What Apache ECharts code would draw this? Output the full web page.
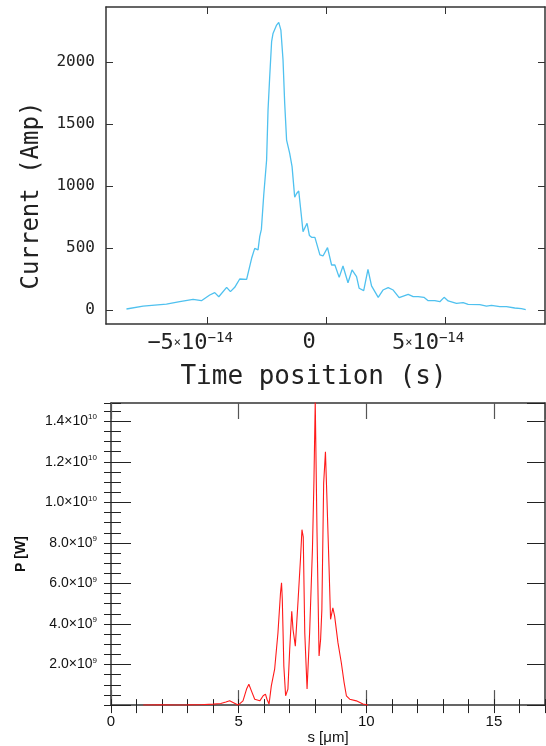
<!DOCTYPE html>
<html>
<head>
<meta charset="utf-8">
<script src="https://cdn.jsdelivr.net/npm/echarts@6/dist/echarts.min.js"></script>
<style>
html,body{margin:0;padding:0;background:#fff;}
#c{width:546px;height:746px;}
</style>
</head>
<body>
<div id="c"></div>
<script>
// ---- Top panel: current profile ----
const timeS = [-8.39e-14,-7.69e-14,-6.71e-14,-6.15e-14,-5.59e-14,-5.24e-14,-4.89e-14,-4.68e-14,-4.51e-14,-4.18e-14,
  -4.02e-14,-3.84e-14,-3.63e-14,-3.34e-14,-3.13e-14,-3.00e-14,-2.86e-14,-2.79e-14,-2.72e-14,-2.62e-14,
  -2.50e-14,-2.44e-14,-2.37e-14,-2.29e-14,-2.23e-14,-2.08e-14,-1.99e-14,-1.90e-14,-1.81e-14,-1.74e-14,
  -1.66e-14,-1.53e-14,-1.43e-14,-1.32e-14,-1.24e-14,-1.15e-14,-1.05e-14,-0.97e-14,-0.80e-14,-0.70e-14,
  -0.61e-14,-0.47e-14,-0.26e-14,-0.13e-14,0.06e-14,0.23e-14,0.37e-14,0.55e-14,0.71e-14,0.92e-14,
  1.09e-14,1.28e-14,1.39e-14,1.58e-14,1.76e-14,1.91e-14,2.19e-14,2.39e-14,2.61e-14,2.82e-14,
  3.07e-14,3.45e-14,3.66e-14,3.87e-14,4.11e-14,4.29e-14,4.57e-14,4.78e-14,4.96e-14,5.13e-14,
  5.48e-14,5.76e-14,5.97e-14,6.46e-14,6.74e-14,6.95e-14,7.30e-14,7.58e-14,7.93e-14,8.21e-14,8.39e-14];
const currentAmp = [8,32,48,67,86,75,121,140,107,183,
  148,183,250,247,417,497,485,591,650,930,
  1210,1613,1882,2164,2231,2298,2320,2258,2016,1667,
  1371,1264,1156,910,940,960,780,632,699,600,
  586,586,444,436,503,363,363,263,355,220,
  323,269,175,156,328,194,102,161,180,161,
  99,126,108,108,102,75,75,67,102,73,
  54,59,46,43,32,38,27,27,16,11,2];
const timeTicks = [-5e-14, 0, 5e-14];
const currentTicks = [0, 500, 1000, 1500, 2000];

// ---- Bottom panel: power vs s ----
const sUm = [1.26,2.0,2.5,3.0,3.5,4.0,4.3,4.5,4.65,4.78,4.98,5.17,5.31,5.40,5.50,5.63,5.83,5.96,6.05,6.11,
  6.19,6.28,6.41,6.54,6.64,6.68,6.71,6.77,6.84,6.93,7.00,7.08,7.13,7.22,7.33,7.42,7.48,7.53,7.59,7.68,
  7.78,7.89,7.95,8.00,8.07,8.15,8.21,8.26,8.33,8.40,8.46,8.54,8.60,8.69,8.76,8.89,9.02,9.13,9.22,9.35,
  9.61,9.87,10.06];
const powerW = [0.005e9,0.01e9,0.005e9,0.01e9,0.02e9,0.05e9,0.08e9,0.15e9,0.21e9,0.13e9,0.0,0.21e9,0.79e9,1.03e9,0.70e9,0.29e9,0.21e9,0.46e9,0.54e9,0.29e9,
  0.05e9,0.95e9,1.77e9,3.57e9,5.54e9,6.03e9,5.21e9,1.93e9,0.46e9,0.79e9,2.75e9,4.63e9,3.73e9,2.91e9,5.21e9,7.17e9,8.65e9,8.3e9,3.57e9,0.79e9,
  3.57e9,7.67e9,11.1e9,15.0e9,8.49e9,2.42e9,3.24e9,4.72e9,10.94e9,12.5e9,10.12e9,6.85e9,4.23e9,4.80e9,4.39e9,3.08e9,2.10e9,1.12e9,0.46e9,0.29e9,
  0.21e9,0.05e9,0];

const mono = 'DejaVu Sans Mono';
const sans = 'Liberation Sans';
const lineCol = '#333';

function timeLabel(v){
  const m = Math.round(v*1e14);
  if (m === 0) return '{m|0}';
  return '{m|' + (m<0?'\u2212':'') + Math.abs(m) + '}{x|\u00d7}{m|10}{e|\u221214}';
}
function powLabel(v){
  if (v === 0) return '';
  const e = Math.floor(Math.log10(v)+1e-9);
  const m = (v/Math.pow(10,e)).toFixed(1);
  return '{m|' + m + '\u00d710}{e|' + e + '}';
}

const topXBase = {gridIndex:0, type:'value', min:-9.25e-14, max:9.2e-14, splitLine:{show:false},
  axisLine:{show:true, onZero:false, lineStyle:{color:lineCol, width:1.5}}};
const topYBase = {gridIndex:0, type:'value', min:-113, max:2444, splitLine:{show:false},
  axisLine:{show:true, onZero:false, lineStyle:{color:lineCol, width:1.5}}};
const botXBase = {gridIndex:1, type:'value', min:0, max:17, splitLine:{show:false},
  axisLine:{show:true, onZero:false, lineStyle:{color:lineCol, width:1.5}}};
const botYBase = {gridIndex:1, type:'value', min:0, max:1.49e10, splitLine:{show:false},
  axisLine:{show:true, onZero:false, lineStyle:{color:lineCol, width:1.5}}};

const option = {
  animation:false,
  backgroundColor:'#fff',
  grid:[
    {left:106, top:7, width:439, height:317},
    {left:111, top:403, width:434, height:303}
  ],
  xAxis:[
    Object.assign({}, topXBase, {position:'bottom',
      axisTick:{show:true, inside:true, length:7, customValues:timeTicks, lineStyle:{color:lineCol}},
      axisLabel:{show:true, customValues:timeTicks, margin:7, formatter:timeLabel, padding:[0,34,0,0],
        rich:{m:{fontFamily:mono, fontSize:22, color:'#222'},
              x:{fontFamily:mono, fontSize:12, color:'#222'},
              e:{fontFamily:mono, fontSize:14, color:'#222', verticalAlign:'top', padding:[0,0,10,0]}}},
      name:'Time position (s)', nameLocation:'middle', nameGap:40,
      nameTextStyle:{fontFamily:mono, fontSize:26, color:'#222', padding:[0,24,0,0]}}),
    Object.assign({}, topXBase, {position:'top',
      axisTick:{show:true, inside:true, length:7, customValues:timeTicks, lineStyle:{color:lineCol}},
      axisLabel:{show:false}}),
    Object.assign({}, botXBase, {position:'bottom', interval:5,
      axisTick:{show:true, inside:true, length:15, lineStyle:{color:'#555', width:1.2}},
      axisLabel:{show:true, margin:9, showMaxLabel:false, fontFamily:sans, fontSize:15, color:'#111'},
      name:'s [\u03bcm]', nameLocation:'middle', nameGap:22,
      nameTextStyle:{fontFamily:sans, fontSize:15, color:'#111'}}),
    Object.assign({}, botXBase, {position:'bottom', interval:1, axisLine:{show:false},
      axisTick:{show:true, inside:true, length:6, lineStyle:{color:'#222'}}, axisLabel:{show:false}}),
    Object.assign({}, botXBase, {position:'top', interval:5,
      axisTick:{show:true, inside:true, length:16, lineStyle:{color:'#555', width:1.2}}, axisLabel:{show:false}}),
    Object.assign({}, botXBase, {position:'top', interval:1, axisLine:{show:false},
      axisTick:{show:true, inside:true, length:8, lineStyle:{color:'#222'}}, axisLabel:{show:false}})
  ],
  yAxis:[
    Object.assign({}, topYBase, {position:'left',
      axisTick:{show:true, inside:true, length:7, customValues:currentTicks, lineStyle:{color:lineCol}},
      axisLabel:{show:true, customValues:currentTicks, margin:11, fontFamily:mono, fontSize:16, color:'#222',
        padding:[0,0,8,0], formatter:function(v){ return String(v); }},
      name:'Current (Amp)', nameLocation:'middle', nameGap:62,
      nameTextStyle:{fontFamily:mono, fontSize:24, color:'#222', padding:[0,60,0,0]}}),
    Object.assign({}, topYBase, {position:'right',
      axisTick:{show:true, inside:true, length:7, customValues:currentTicks, lineStyle:{color:lineCol}},
      axisLabel:{show:false}}),
    Object.assign({}, botYBase, {position:'left', interval:2e9,
      axisTick:{show:true, inside:true, length:20, lineStyle:{color:'#222'}},
      axisLabel:{show:true, margin:14, showMaxLabel:false, formatter:powLabel,
        rich:{m:{fontFamily:sans, fontSize:14, color:'#111'},
              e:{fontFamily:sans, fontSize:8, color:'#111', verticalAlign:'top', padding:[0,0,8,0]}}},
      name:'P [W]', nameLocation:'middle', nameGap:83,
      nameTextStyle:{fontFamily:sans, fontSize:14, fontWeight:'bold', color:'#111'}}),
    Object.assign({}, botYBase, {position:'left', interval:5e8, axisLine:{show:false},
      axisTick:{show:true, inside:true, length:10, lineStyle:{color:'#222'}}, axisLabel:{show:false}}),
    Object.assign({}, botYBase, {position:'right', interval:2e9,
      axisTick:{show:true, inside:true, length:18, lineStyle:{color:'#222'}}, axisLabel:{show:false}}),
    Object.assign({}, botYBase, {position:'right', interval:5e8, axisLine:{show:false},
      axisTick:{show:true, inside:true, length:7, lineStyle:{color:'#222'}}, axisLabel:{show:false}})
  ],
  series:[
    {type:'line', xAxisIndex:0, yAxisIndex:0, showSymbol:false, symbol:'none',
      data: timeS.map((t,i)=>[t, currentAmp[i]]),
      lineStyle:{color:'#4fc1ef', width:1.3}},
    {type:'line', xAxisIndex:2, yAxisIndex:2, showSymbol:false, symbol:'none', clip:true,
      data: sUm.map((s,i)=>[s, powerW[i]]),
      lineStyle:{color:'#ff1a1a', width:1.1}}
  ]
};
const chart = echarts.init(document.getElementById('c'), null, {renderer:'canvas'});
chart.setOption(option);
</script>
</body>
</html>
